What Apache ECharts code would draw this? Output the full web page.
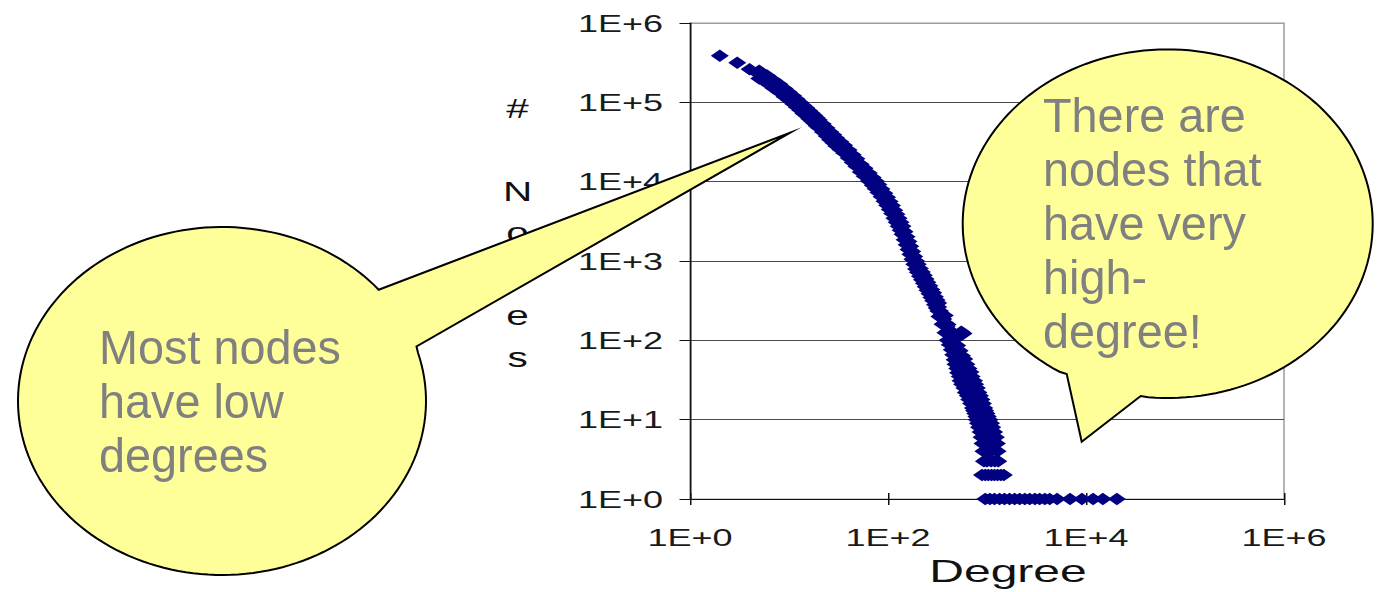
<!DOCTYPE html>
<html><head><meta charset="utf-8">
<script src="https://cdn.jsdelivr.net/npm/echarts@6/dist/echarts.min.js"></script>
<style>
html,body{margin:0;padding:0;background:#fff;width:1378px;height:592px;overflow:hidden;}
#chart{position:absolute;left:0;top:0;width:919px;height:592px;transform:scaleX(1.5);transform-origin:0 0;}
#overlay{position:absolute;left:0;top:0;width:1378px;height:592px;pointer-events:none;}
</style></head><body>
<div id="chart"></div><div id="overlay"></div>
<script>
// ---------- data (degree, number of nodes) ----------
const xTickLabels = ['1E+0', '1E+1', '1E+2', '1E+3', '1E+4', '1E+5', '1E+6'];
const yTickLabels = ['1E+0', '1E+1', '1E+2', '1E+3', '1E+4', '1E+5', '1E+6'];
const xAxisTitle = 'Degree';
const yAxisTitleChars = ['#', '', 'N', 'o', 'd', 'e', 's'];
const leftNote = 'Most nodes\nhave low\ndegrees';
const rightNote = 'There are\nnodes that\nhave very\nhigh-\ndegree!';

const mainCurve = [
  [2,387000],[3,316000],[4,262000],[5,224000],[6,195000],[7,170000],[8,151000],[9,133000],
  [10,120000],[11,108000],[12,97700],[13,89000],[14,81300],[15,75900],[16,70000],[17,65300],
  [18,61000],[19,57100],[20,53700],[22,47500],[24,42400],[26,38000],[28,34700],[30,31600],
  [33,28500],[36,25700],[40,22400],[44,19500],[48,17400],[53,14800],[58,13200],[64,11500],
  [70,10100],[75,9120],[80,8220],[86,7240],[92,6380],[98,5690],[104,5010],[110,4470],
  [116,3890],[122,3470],[128,3090],[134,2750],[140,2450],[147,2080],[154,1800],[161,1570],
  [168,1370],[176,1180],[184,1020],[192,890],[200,810],[210,720],[220,650],[230,590],
  [240,530],[250,480],[262,435],[274,390],[286,355],[298,316],[310,288],[322,263],
  [335,235],[348,212],[362,186],[376,166],[391,148],[406,132],[422,117],[438,102],
  [455,89],[472,79],[490,70],[508,62],[527,55],[547,48],[567,43],[588,38],[610,33],
  [632,30],[655,26],[680,23],[705,21],[730,19],[757,17],[785,15],[813,14],[843,12],
  [874,11],[906,10],[940,9],[975,8],[1010,7],[1050,6],[1090,5]
];
// upper and lower edges of the thick band
const bandUpperEdge = [
  [5,251000],[6,218000],[7,190000],[8,169000],[9,149000],[10,134000],[11,121000],[12,109000],
  [13,99700],[14,91100],[15,85000],[16,78400],[17,73100],[18,68300],[19,64000],[20,60100],
  [22,53200],[24,47500],[26,42600],[28,38900],[30,35400],[33,31900],[36,28800],[40,25100],
  [44,21800],[48,19500],[53,16600],[58,14800],[64,12900],[70,11300],[75,10200],[80,9210],
  [86,8110],[92,7150],[98,6370],[104,5610],[110,5010],[116,4360],[122,3890],[128,3460],
  [134,3080],[140,2740],[147,2330],[154,2020],[161,1760],[168,1530],[176,1320],[184,1140],
  [192,997],[200,907],[210,806],[220,728],[230,661],[240,594],[250,538],[262,487],
  [274,437],[286,398],[298,354],[310,323],[322,295]
];
const bandLowerEdge = [
  [5,199000],[6,174000],[7,151000],[8,134000],[9,118000],[10,107000],[11,96100],[12,87000],
  [13,79200],[14,72400],[15,67600],[16,62300],[17,58100],[18,54300],[19,50800],[20,47800],
  [22,42300],[24,37700],[26,33800],[28,30900],[30,28100],[33,25400],[36,22900],[40,19900],
  [44,17400],[48,15500],[53,13200],[58,11700],[64,10200],[70,8990],[75,8120],[80,7320],
  [86,6440],[92,5680],[98,5060],[104,4460],[110,3980],[116,3460],[122,3090],[128,2750],
  [134,2450],[140,2180],[147,1850],[154,1600],[161,1400],[168,1220],[176,1050],[184,908],
  [192,792],[200,721],[210,641],[220,579],[230,525],[240,472],[250,427],[262,387],
  [274,347],[286,316],[298,281],[310,256],[322,234]
];
const bandSpread = [
  [330,200],[375,205],[355,160],[400,158],[380,125],[440,128],[550,128],[580,122],
  [400,100],[480,104],[420,88],[500,86],[440,76],[530,74],[455,66],[560,64],
  [470,57],[590,58],[480,50],[620,50],[500,44],[650,44],[510,39],[680,40],
  [530,35],[700,35],[540,31],[740,31],[560,28],[760,28],[590,25],[790,25],
  [610,22],[820,22],[640,20],[850,20],[660,18],[880,18],[690,16],[910,16],
  [720,14],[940,14],[740,13],[960,13],[760,12],[990,12],[780,11],[1020,11],
  [790,10],[1060,10],[810,9],[1100,9],[830,8],[1130,8],[860,7],[1180,7],
  [880,6],[1230,6],[900,5],[1260,5],[920,4],[1000,4],[1100,4],[1280,4],
  [930,3],[1000,3],[1100,3],[1200,3],[1300,3]
];
const countTwo = [[890,2],[960,2],[1030,2],[1110,2],[1190,2],[1280,2],[1380,2],[1480,2]];
const countOne = [
  [960,1],[1070,1],[1190,1],[1340,1],[1500,1],[1690,1],[1900,1],[2140,1],[2410,1],[2700,1],
  [3050,1],[3400,1],[3840,1],[4300,1],[5100,1],[6900,1],[9100,1],[11800,1],[14800,1],[20500,1]
];

const allPoints = mainCurve.concat(bandUpperEdge, bandLowerEdge, bandSpread, countTwo, countOne);

const FONT = '"Liberation Sans", Arial, sans-serif';
const expOf = v => Math.round(Math.log10(v));
const yAxisTitle = yAxisTitleChars.map(c => c ? '{t|' + c + '}' : '').join('\n') + '\n{p| }';

const chart = echarts.init(document.getElementById('chart'), null, {renderer: 'svg'});
chart.setOption({
  animation: false,
  backgroundColor: 'transparent',
  grid: {left: 460, top: 23, width: 396, height: 480, show: true, borderColor: '#9c9c9c', borderWidth: 1, backgroundColor: 'transparent'},
  xAxis: [{
    type: 'log', logBase: 10, min: 1, max: 1000000, interval: 2, position: 'bottom',
    name: xAxisTitle, nameLocation: 'middle', nameGap: 72,
    nameTextStyle: {fontFamily: FONT, fontSize: 32, color: '#111', align: 'center', verticalAlign: 'middle', padding: [0, 0, 0, 28]},
    axisLine: {show: true, lineStyle: {color: '#111', width: 1}},
    axisTick: {show: true, length: 6, lineStyle: {color: '#111'}},
    axisLabel: {fontFamily: FONT, fontSize: 24, color: '#1a1a1a', margin: 26, formatter: v => xTickLabels[expOf(v)]},
    splitLine: {show: false}, minorTick: {show: false}
  }, {
    type: 'log', logBase: 10, min: 1, max: 1000000, interval: 2, position: 'bottom',
    axisLine: {show: false}, axisLabel: {show: false}, splitLine: {show: false},
    axisTick: {show: true, inside: true, length: 6, lineStyle: {color: '#111'}}
  }],
  yAxis: {
    type: 'log', logBase: 10, min: 1, max: 1000000, interval: 1,
    name: yAxisTitle, nameLocation: 'middle', nameGap: 115, nameRotate: 0,
    nameTextStyle: {
      fontFamily: FONT, fontSize: 27, lineHeight: 41.5, color: '#111', align: 'center', verticalAlign: 'middle',
      rich: {
        t: {fontFamily: FONT, fontSize: 27, lineHeight: 41.5, color: '#111'},
        p: {fontFamily: FONT, fontSize: 10, lineHeight: 56, color: '#fff'}
      }
    },
    axisLine: {show: true, lineStyle: {color: '#111', width: 1}},
    axisTick: {show: true, length: 7, lineStyle: {color: '#111'}},
    axisLabel: {fontFamily: FONT, fontSize: 24, color: '#1a1a1a', margin: 18, formatter: v => yTickLabels[expOf(v)]},
    splitLine: {show: true, lineStyle: {color: ['#4a4a4a','#4a4a4a','#4a4a4a','#4a4a4a','#4a4a4a','#4a4a4a','#9c9c9c'], width: 1}}
  },
  series: [{
    type: 'scatter', xAxisIndex: 0, yAxisIndex: 0, clip: false,
    symbol: 'diamond', symbolSize: [12, 12.5],
    itemStyle: {color: '#000080', opacity: 1},
    data: allPoints
  }]
});

// ---------- speech-bubble callouts (annotations, not data) ----------
function bubblePoints(cx, cy, rx, ry, b1, tip, b2) {
  const ang = p => Math.atan2((p[1] - cy) / ry, (p[0] - cx) / rx);
  const a1 = ang(b1), a2 = ang(b2);
  let d = a1 - a2;
  while (d > Math.PI) d -= 2 * Math.PI;
  while (d <= -Math.PI) d += 2 * Math.PI;
  const longWay = d - Math.sign(d) * 2 * Math.PI;
  const pts = [b1, tip, b2];
  const n = 160;
  for (let i = 1; i < n; i++) {
    const a = a2 + longWay * i / n;
    pts.push([cx + rx * Math.cos(a), cy + ry * Math.sin(a)]);
  }
  return pts;
}
const overlay = echarts.init(document.getElementById('overlay'), null, {renderer: 'canvas'});
const bubbleStyle = {fill: '#FFFF99', stroke: '#000', lineWidth: 2, lineJoin: 'miter', miterLimit: 20};
const noteFont = '49px "Liberation Sans", Arial, sans-serif';
overlay.setOption({
  animation: false,
  graphic: [
    {type: 'polygon', shape: {points: bubblePoints(222, 401, 204, 174, [378.7, 289.8], [790, 132.7], [416.5, 346.4])}, style: bubbleStyle, z: 1},
    {type: 'polygon', shape: {points: bubblePoints(1167.7, 223.7, 205, 174.3, [1066.7, 374], [1081.7, 441.7], [1140.7, 396])}, style: bubbleStyle, z: 1},
    {type: 'text', x: 99, y: 323, scaleX: 0.955, z: 2,
      style: {text: leftNote, font: noteFont, fill: '#808080', lineHeight: 54, align: 'left', verticalAlign: 'top'}},
    {type: 'text', x: 1043, y: 91, scaleX: 0.955, z: 2,
      style: {text: rightNote, font: noteFont, fill: '#808080', lineHeight: 54, align: 'left', verticalAlign: 'top'}}
  ]
});
</script>
</body></html>
